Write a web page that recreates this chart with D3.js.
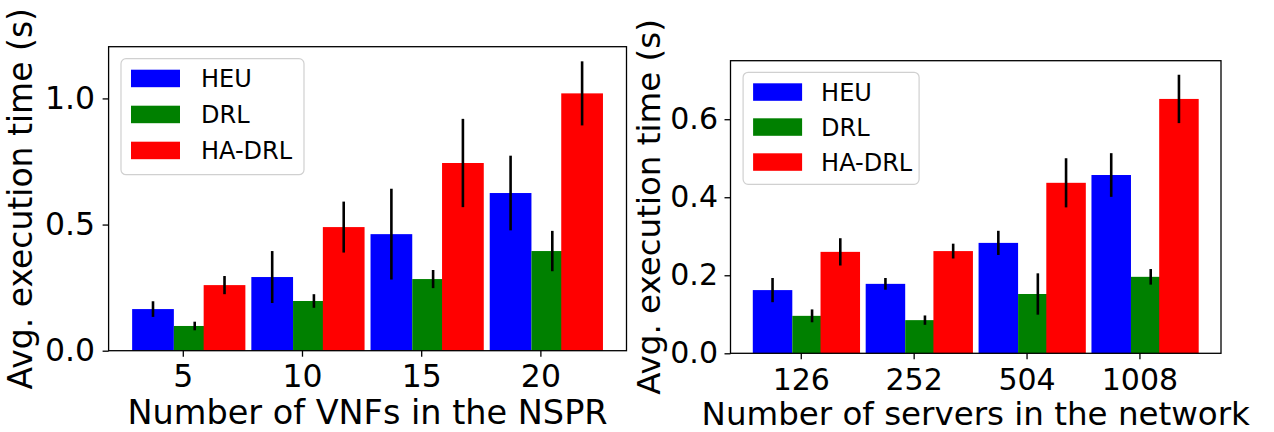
<!DOCTYPE html>
<html>
<head>
<meta charset="utf-8">
<script src="https://cdn.jsdelivr.net/npm/d3@7"></script>
<style>
  body { margin: 0; background: #fff; }
  text { font-family: "DejaVu Sans", sans-serif; fill: #000; }
</style>
</head>
<body>
<div id="my_dataviz"></div>
<script>
// series names and colors
var seriesNames = ["HEU", "DRL", "HA-DRL"];
var seriesColors = ["#0000ff", "#008000", "#ff0000"];

// left chart: number of VNFs
var vnfLabels = ["5", "10", "15", "20"];
var vnfHeu = [0.165, 0.292, 0.462, 0.625];
var vnfHeuErr = [0.031, 0.103, 0.180, 0.148];
var vnfDrl = [0.098, 0.197, 0.284, 0.395];
var vnfDrlErr = [0.017, 0.027, 0.036, 0.080];
var vnfHadrl = [0.260, 0.490, 0.744, 1.020];
var vnfHadrlErr = [0.036, 0.101, 0.175, 0.127];
var vnfTicks = [0.0, 0.5, 1.0];

// right chart: number of servers
var serverLabels = ["126", "252", "504", "1008"];
var srvHeu = [0.162, 0.178, 0.283, 0.457];
var srvHeuErr = [0.031, 0.015, 0.031, 0.056];
var srvDrl = [0.096, 0.085, 0.152, 0.196];
var srvDrlErr = [0.0165, 0.012, 0.053, 0.020];
var srvHadrl = [0.260, 0.262, 0.437, 0.652];
var srvHadrlErr = [0.035, 0.019, 0.063, 0.062];
var srvTicks = [0.0, 0.2, 0.4, 0.6];

var svg = d3.select("#my_dataviz")
  .append("svg")
    .attr("width", 1274)
    .attr("height", 432);

// bar offsets (in group units) and width, as in the original plot
var offsets = [-0.25, 0.1, 0.35];
var barW = 0.35;

function drawChart(cfg) {
  var g = svg.append("g")
    .attr("transform", "translate(" + cfg.left + "," + cfg.top + ")");
  var width = cfg.right - cfg.left,
      height = cfg.bottom - cfg.top;

  var x = d3.scaleLinear()
    .domain([-0.6225, 3.7225])
    .range([0, width]);
  var y = d3.scaleLinear()
    .domain([0, cfg.ymax])
    .range([height, 0]);

  // bars, series by series (later ones overlap earlier ones)
  cfg.series.forEach(function(s, k) {
    var rows = s.values.map(function(v, i) { return {i: i, v: v, e: s.errs[i]}; });
    g.append("g")
      .selectAll("rect")
      .data(rows)
      .enter()
      .append("rect")
        .attr("x", function(d) { return x(d.i + offsets[k] - barW / 2); })
        .attr("y", function(d) { return y(d.v); })
        .attr("width", x(barW) - x(0))
        .attr("height", function(d) { return y(0) - y(d.v); })
        .style("fill", seriesColors[k]);
    g.append("g")
      .selectAll("line")
      .data(rows)
      .enter()
      .append("line")
        .attr("x1", function(d) { return x(d.i + offsets[k]); })
        .attr("x2", function(d) { return x(d.i + offsets[k]); })
        .attr("y1", function(d) { return y(d.v - d.e); })
        .attr("y2", function(d) { return y(d.v + d.e); })
        .attr("stroke", "#000")
        .attr("stroke-width", 2.6);
  });

  // axes
  var xAxis = g.append("g")
    .attr("transform", "translate(0," + height + ")")
    .call(d3.axisBottom(x)
      .tickValues([0, 1, 2, 3])
      .tickFormat(function(d) { return cfg.labels[d]; })
      .tickSize(6)
      .tickPadding(cfg.xPad));
  xAxis.select(".domain").remove();
  xAxis.selectAll("line").attr("stroke", "#000").attr("stroke-width", 1.3);
  xAxis.selectAll("text")
    .style("font-size", cfg.tickFont + "px")
    .style("font-family", "DejaVu Sans");

  var yAxis = g.append("g")
    .call(d3.axisLeft(y)
      .tickValues(cfg.ticks)
      .tickFormat(d3.format(".1f"))
      .tickSize(6)
      .tickPadding(cfg.yPad));
  yAxis.select(".domain").remove();
  yAxis.selectAll("line").attr("stroke", "#000").attr("stroke-width", 1.3);
  yAxis.selectAll("text")
    .style("font-size", cfg.tickFont + "px")
    .style("font-family", "DejaVu Sans");

  // frame
  g.append("rect")
    .attr("width", width)
    .attr("height", height)
    .style("fill", "none")
    .attr("stroke", "#000")
    .attr("stroke-width", 1.3);

  // axis labels
  svg.append("text")
    .attr("x", (cfg.left + cfg.right) / 2)
    .attr("y", cfg.xLabelY)
    .attr("text-anchor", "middle")
    .style("font-size", cfg.labelFont + "px")
    .text(cfg.xLabel);
  svg.append("text")
    .attr("transform", "rotate(-90)")
    .attr("x", -(cfg.top + cfg.bottom) / 2)
    .attr("y", cfg.yLabelX)
    .attr("text-anchor", "middle")
    .style("font-size", cfg.yLabelFont + "px")
    .text("Avg. execution time (s)");

  // legend
  var lg = g.append("g")
    .attr("transform", "translate(" + cfg.legX + "," + cfg.legY + ")");
  lg.append("rect")
    .attr("width", cfg.legW)
    .attr("height", cfg.legH)
    .attr("rx", 5)
    .style("fill", "#fff")
    .style("fill-opacity", 0.8)
    .attr("stroke", "#d0d0d0")
    .attr("stroke-width", 1.2);
  seriesNames.forEach(function(name, k) {
    lg.append("rect")
      .attr("x", 10)
      .attr("y", 11 + k * cfg.legStep)
      .attr("width", 49)
      .attr("height", 17.5)
      .style("fill", seriesColors[k]);
    lg.append("text")
      .attr("x", cfg.legTextX)
      .attr("y", 11 + k * cfg.legStep + 8.75)
      .attr("dy", "0.36em")
      .style("font-size", "24px")
      .text(name);
  });
}

drawChart({
  left: 108.6, right: 626.5, top: 46.7, bottom: 350.7,
  ymax: 1.205, ticks: vnfTicks, labels: vnfLabels,
  series: [
    {values: vnfHeu, errs: vnfHeuErr},
    {values: vnfDrl, errs: vnfDrlErr},
    {values: vnfHadrl, errs: vnfHadrlErr}
  ],
  tickFont: 31.5, xPad: 7.5, yPad: 7.5,
  labelFont: 33.5, xLabel: "Number of VNFs in the NSPR", xLabelY: 424,
  yLabelFont: 33, yLabelX: 32,
  legX: 12.4, legY: 12, legW: 183, legH: 116, legStep: 36, legTextX: 80
});

drawChart({
  left: 730.5, right: 1221, top: 60.7, bottom: 353.3,
  ymax: 0.75, ticks: srvTicks, labels: serverLabels,
  series: [
    {values: srvHeu, errs: srvHeuErr},
    {values: srvDrl, errs: srvDrlErr},
    {values: srvHadrl, errs: srvHadrlErr}
  ],
  tickFont: 30, xPad: 9, yPad: 6.5,
  labelFont: 32.5, xLabel: "Number of servers in the network", xLabelY: 424.5,
  yLabelFont: 32.5, yLabelX: 660,
  legX: 12.6, legY: 11.6, legW: 176, legH: 112, legStep: 35, legTextX: 78
});
</script>
</body>
</html>
